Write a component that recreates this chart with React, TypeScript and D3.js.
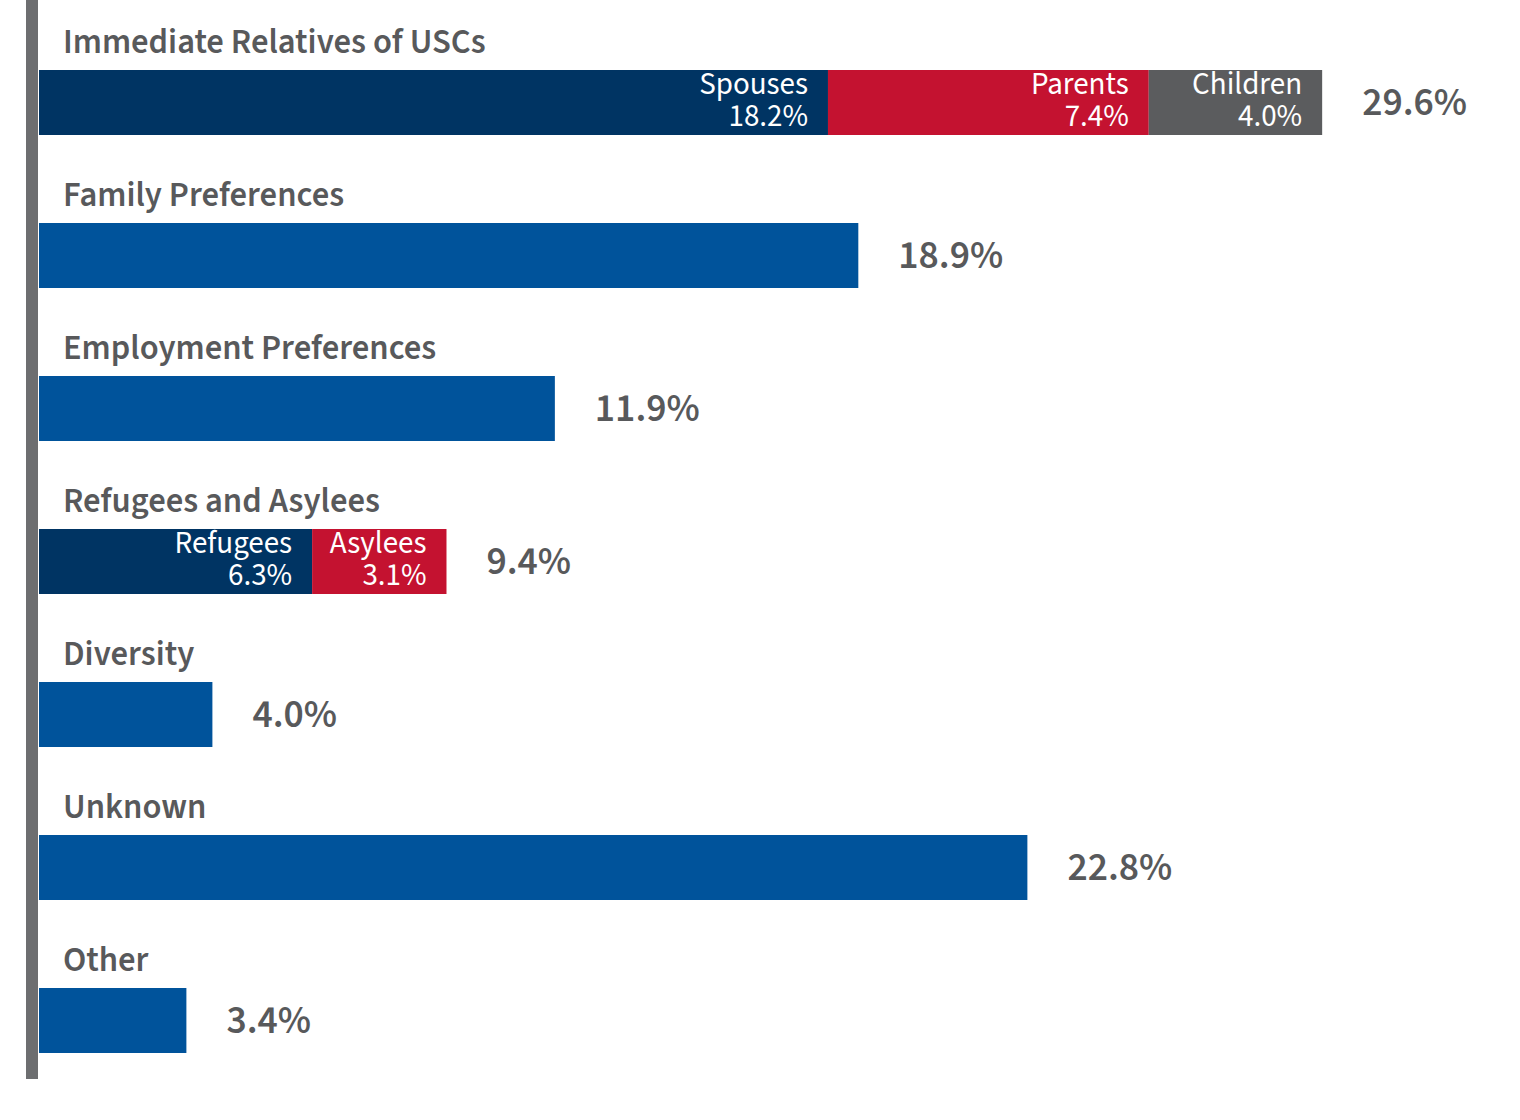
import React from "react";
import * as d3 from "d3";

const categories = [
  "Immediate Relatives of USCs",
  "Family Preferences",
  "Employment Preferences",
  "Refugees and Asylees",
  "Diversity",
  "Unknown",
  "Other",
];
const totals = [29.6, 18.9, 11.9, 9.4, 4.0, 22.8, 3.4];
const totalLabels = ["29.6%", "18.9%", "11.9%", "9.4%", "4.0%", "22.8%", "3.4%"];

const immediateParts = ["Spouses", "Parents", "Children"];
const immediateValues = [18.2, 7.4, 4.0];
const immediateLabels = ["18.2%", "7.4%", "4.0%"];

const refugeeParts = ["Refugees", "Asylees"];
const refugeeValues = [6.3, 3.1];
const refugeeLabels = ["6.3%", "3.1%"];

const W = 1520;
const H = 1120;
const FONT = "'Source Sans Pro', 'Source Sans 3', Lato, 'Noto Sans', sans-serif";
const TEXT = "#58595b";
const NAVY = "#003463";
const RED = "#c41230";
const GRAY = "#5b5c5e";
const BLUE = "#00539b";
const partColors3 = [NAVY, RED, GRAY];
const partColors2 = [NAVY, RED];

export default function App() {
  const x = d3.scaleLinear().domain([0, 29.6]).range([39, 39 + 29.6 * 43.35]);
  const y = d3
    .scaleBand<string>()
    .domain(categories)
    .range([70 - 44, 70 - 44 + 153 * categories.length])
    .paddingInner(0)
    .paddingOuter(0);
  const barH = 65;
  const barTop = (c: string) => (y(c) as number) + 44;

  const stacks: Record<number, { parts: string[]; values: number[]; labels: string[]; colors: string[] }> = {
    0: { parts: immediateParts, values: immediateValues, labels: immediateLabels, colors: partColors3 },
    3: { parts: refugeeParts, values: refugeeValues, labels: refugeeLabels, colors: partColors2 },
  };

  return (
    <svg
      width={W}
      height={H}
      style={{ position: "absolute", left: 0, top: 0, background: "#fff" }}
      fontFamily={FONT}
    >
      <rect x={26} y={0} width={12} height={1079} fill="#6d6e70" />
      {categories.map((c, i) => {
        const top = barTop(c);
        const stack = stacks[i];
        let segs: React.ReactNode[] = [];
        if (stack) {
          let cum = 0;
          segs = stack.values.map((v, j) => {
            const x0 = x(cum);
            cum += v;
            const x1 = x(cum);
            return (
              <g key={j}>
                <rect x={x0} y={top} width={x1 - x0} height={barH} fill={stack.colors[j]} />
                <text x={x1 - 20} y={top + 24} textAnchor="end" fill="#fff" fontSize={31}>
                  {stack.parts[j]}
                </text>
                <text x={x1 - 20} y={top + 56} textAnchor="end" fill="#fff" fontSize={31}>
                  {stack.labels[j]}
                </text>
              </g>
            );
          });
        } else {
          segs = [
            <rect key="b" x={x(0)} y={top} width={x(totals[i]) - x(0)} height={barH} fill={BLUE} />,
          ];
        }
        return (
          <g key={c}>
            <text x={63} y={top - 17} fill={TEXT} fontSize={34.6} fontWeight={600}>
              {c}
            </text>
            {segs}
            <text
              x={x(totals[i]) + 40}
              y={top + barH / 2 + 12}
              fill={TEXT}
              fontSize={39.5}
              fontWeight={600}
            >
              {totalLabels[i]}
            </text>
          </g>
        );
      })}
    </svg>
  );
}
